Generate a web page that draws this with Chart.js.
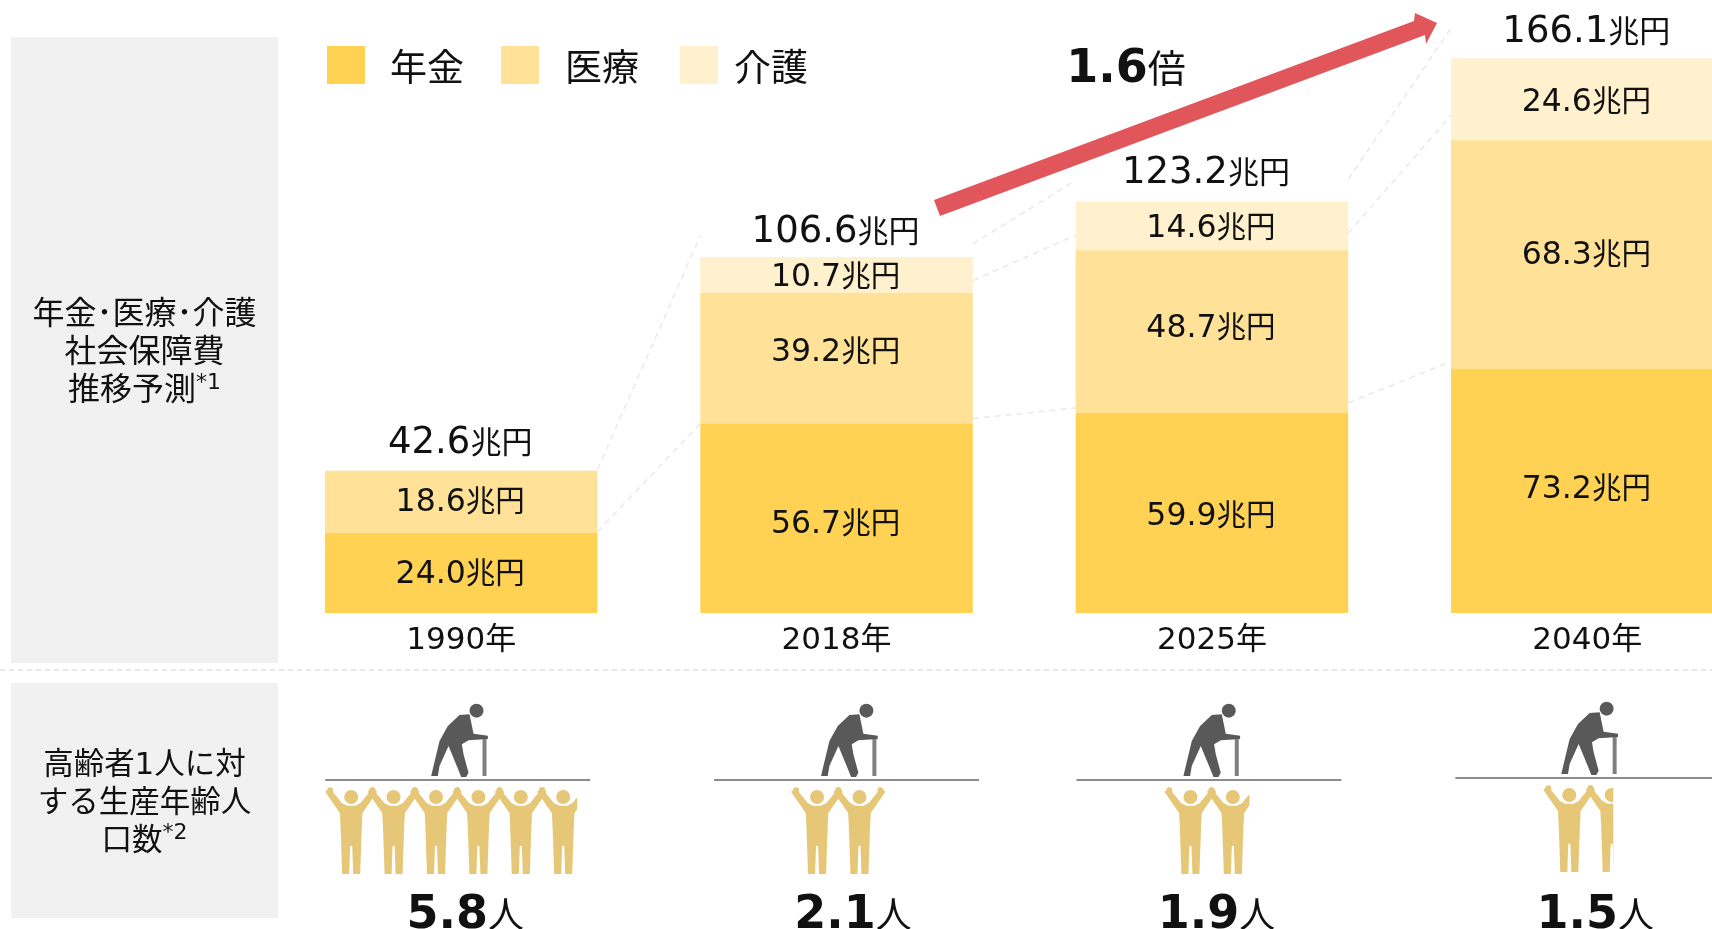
<!DOCTYPE html>
<html lang="ja">
<head>
<meta charset="utf-8">
<title>社会保障費推移予測</title>
<script src="https://cdn.jsdelivr.net/npm/chart.js@4/dist/chart.umd.min.js"></script>
<style>
html,body{margin:0;padding:0;width:1712px;height:929px;overflow:hidden;background:#fff}
#wrap{position:absolute;left:0;top:0;width:1712px;height:929px;overflow:hidden}
canvas{position:absolute;left:0;top:0}
</style>
</head>
<body>
<div id="wrap"><canvas id="c" width="1775" height="929"></canvas></div>
<script>
// ---- data ----
const categories = ['1990年', '2018年', '2025年', '2040年'];
const pension = [24.0, 56.7, 59.9, 73.2];
const medical = [18.6, 39.2, 48.7, 68.3];
const care = [null, 10.7, 14.6, 24.6];
const totals = [42.6, 106.6, 123.2, 166.1];
const workersPerElder = [5.8, 2.1, 1.9, 1.5];
const seriesNames = ['年金', '医療', '介護'];
const multipleNumber = '1.6';
const multipleUnit = '倍';
const moneyUnit = '兆円';
const personUnit = '人';
const panelTop = [['年金･医療･介護'], ['社会保障費'], ['推移予測', '*1']];
const panelBottom = [['高齢者1人に対'], ['する生産年齢人'], ['口数', '*2']];

// ---- styles ----
const colors = ['#FFD254', '#FFE297', '#FFF1CD'];
const FAM = '"DejaVu Sans","Noto Sans CJK JP",sans-serif';
const INK = '#111';

// ---- layout offsets (pixels, relative to each category centre) ----
const totalBase = [-18, -15, -18, -16];
const totalX = [-1, -1, -6, -1];
const segNudge = [[-2, 3, 0, -5], [-3, -9, -7, -2], [0, -1, -1, 0]];
const elderX = [-30, -15.5, -28.5, -26];
const rowDY = [0, 0, 0, -2];
const lineX = [-136, -122.5, -135.5, -132];
const firstPerson = [-110, -19.5, -21.5, -18];
const clipRight = [116, 53.5, 37.5, 26];
const resultX = [4, 16.5, 4.5, 8];

function runs(ctx, parts, cx, base) {
  let w = 0;
  parts.forEach(p => { ctx.font = p.font; w += ctx.measureText(p.t).width; });
  let x = cx - w / 2;
  ctx.textAlign = 'left';
  ctx.textBaseline = 'alphabetic';
  parts.forEach(p => {
    ctx.font = p.font;
    ctx.fillStyle = INK;
    ctx.fillText(p.t, x, base - (p.up || 0));
    x += ctx.measureText(p.t).width;
  });
}
function poly(ctx, pts, ox, oy, k) {
  ctx.beginPath();
  pts.forEach((p, i) => {
    const x = ox + p[0] * k, y = oy + p[1] * k;
    i ? ctx.lineTo(x, y) : ctx.moveTo(x, y);
  });
  ctx.closePath();
  ctx.fill();
}
const personShape = [[-78,8],[-64,-2],[-28,42],[-12,50],[12,50],[28,42],[64,-2],[78,8],[34,72],[32,110],[27,255],[6,255],[3,170],[-3,170],[-6,255],[-27,255],[-32,110],[-34,72]];
function drawPerson(ctx, cx, top) {
  ctx.fillStyle = '#E6C778';
  poly(ctx, personShape, cx, top, 1 / 3);
  [[0, 24, 21], [-63, 4, 9], [63, 4, 9]].forEach(c => {
    ctx.beginPath();
    ctx.arc(cx + c[0] / 3, top + c[1] / 3, c[2] / 3, 0, Math.PI * 2);
    ctx.fill();
  });
}
const elderShape = [[0,225],[7,195],[25,120],[50,75],[85,42],[115,40],[127,98],[170,104],[170,114],[112,118],[92,130],[97,160],[112,215],[105,228],[90,228],[83,210],[52,135],[25,195],[20,225]];
function drawElder(ctx, ox, oy) {
  ctx.fillStyle = '#595959';
  poly(ctx, elderShape, ox, oy, 1 / 3);
  ctx.beginPath();
  ctx.arc(ox + 136 / 3, oy + 29 / 3, 7, 0, Math.PI * 2);
  ctx.fill();
  ctx.fillStyle = '#7f7f7f';
  ctx.fillRect(ox + 154 / 3, oy + 38, 4, 37);
}

const decor = {
  id: 'decor',
  beforeDatasetsDraw(chart) {
    const ctx = chart.ctx;
    ctx.save();
    ctx.fillStyle = '#F1F1F1';
    ctx.fillRect(11, 37, 267, 626);
    ctx.fillRect(11, 683, 267, 235);
    ctx.restore();
  },
  afterDatasetsDraw(chart) {
    const ctx = chart.ctx, xs = chart.scales.x, ys = chart.scales.y;
    const cx = i => xs.getPixelForValue(i);
    const lvl = (i, k) => {
      const a = [pension[i], medical[i], care[i] || 0];
      return ys.getPixelForValue(a.slice(0, k).reduce((s, v) => s + v, 0));
    };
    const half = chart.getDatasetMeta(0).data[0].width / 2;
    ctx.save();

    // connector lines between bars
    ctx.strokeStyle = '#E9E9E9';
    ctx.lineWidth = 1.5;
    ctx.setLineDash([6, 5]);
    const conns = [
      [0, 2, -1, 3, -21],
      [0, 1, -1, 1, 0],
      [1, 3, -13, 3, -21],
      [1, 2, -12, 2, -15],
      [1, 1, -5, 1, -5],
      [2, 3, -22, 3, -30],
      [2, 2, -17, 2, -25],
      [2, 1, -10, 1, -7]
    ];
    conns.forEach(c => {
      const i = c[0];
      ctx.beginPath();
      ctx.moveTo(cx(i) + half, lvl(i, c[1]) + c[2]);
      ctx.lineTo(cx(i + 1) - half, lvl(i + 1, c[3]) + c[4]);
      ctx.stroke();
    });
    ctx.setLineDash([]);

    // segment labels
    const f1 = '31.5px ' + FAM, f2 = '29.5px ' + FAM;
    [pension, medical, care].forEach((arr, s) => {
      arr.forEach((v, i) => {
        if (v == null) return;
        const mid = (lvl(i, s) + lvl(i, s + 1)) / 2 + segNudge[s][i];
        runs(ctx, [{t: v.toFixed(1), font: f1}, {t: moneyUnit, font: f2}], cx(i) - 1, mid + 12);
      });
    });
    // totals
    totals.forEach((v, i) => {
      const top = lvl(i, 3);
      runs(ctx, [{t: v.toFixed(1), font: '37px ' + FAM}, {t: moneyUnit, font: '31px ' + FAM}], cx(i) + totalX[i], top + totalBase[i]);
    });

    // legend
    const legX = [[327, 390], [501, 565], [680, 734]];
    seriesNames.forEach((n, i) => {
      ctx.fillStyle = colors[i];
      ctx.fillRect(legX[i][0], 46, 38, 38);
      ctx.fillStyle = INK;
      ctx.font = '37px ' + FAM;
      ctx.textAlign = 'left';
      ctx.textBaseline = 'alphabetic';
      ctx.fillText(n, legX[i][1], 81);
    });

    // growth arrow
    ctx.fillStyle = '#E0565B';
    poly(ctx, [[934,200],[1414,21],[1415,13],[1437,23],[1426,44],[1425,35],[940,216]], 0, 0, 1);
    runs(ctx, [{t: multipleNumber, font: 'bold 46px ' + FAM}, {t: multipleUnit, font: '38px ' + FAM}], 1126, 82);

    // panels
    const panel = (lines, ys0, size) => lines.forEach((l, i) => {
      const parts = [{t: l[0], font: size + 'px ' + FAM}];
      if (l[1]) parts.push({t: l[1], font: '22px ' + FAM, up: 11});
      runs(ctx, parts, 144.5, ys0[i]);
    });
    panel(panelTop, [324, 362, 400], 32);
    panel(panelBottom, [774, 812, 850], 30.5);

    // divider
    ctx.strokeStyle = '#E8E8E8';
    ctx.lineWidth = 2;
    ctx.setLineDash([5, 4]);
    ctx.beginPath(); ctx.moveTo(0, 670); ctx.lineTo(1712, 670); ctx.stroke();
    ctx.setLineDash([]);

    // bottom row
    workersPerElder.forEach((v, i) => {
      const c = cx(i), dy = rowDY[i];
      ctx.fillStyle = '#8c8c8c';
      ctx.fillRect(c + lineX[i], 779 + dy, 265, 2);
      drawElder(ctx, c + elderX[i], 701 + dy);
      ctx.save();
      ctx.beginPath();
      ctx.rect(c - 300, 700, c + clipRight[i] - (c - 300), 200);
      ctx.clip();
      const n = Math.round(v);
      for (let k = 0; k < n; k++) drawPerson(ctx, c + firstPerson[i] + k * 42.4, 789 + dy);
      ctx.restore();
      runs(ctx, [{t: v.toFixed(1), font: 'bold 46px ' + FAM}, {t: personUnit, font: '36px ' + FAM}], c + resultX[i], 928);
    });
    ctx.restore();
  }
};

new Chart(document.getElementById('c'), {
  type: 'bar',
  data: {
    labels: categories,
    datasets: [
      {label: seriesNames[0], data: pension, backgroundColor: colors[0]},
      {label: seriesNames[1], data: medical, backgroundColor: colors[1]},
      {label: seriesNames[2], data: care, backgroundColor: colors[2]}
    ]
  },
  options: {
    responsive: false,
    animation: false,
    events: [],
    categoryPercentage: 1,
    barPercentage: 0.726,
    layout: {padding: {left: 273.5, right: 0, top: 0, bottom: 266}},
    plugins: {legend: {display: false}, tooltip: {enabled: false}, title: {display: false}},
    scales: {
      x: {
        stacked: true,
        afterFit(s) { s.height = 50; },
        grid: {display: false, drawTicks: false},
        border: {display: false},
        ticks: {color: INK, font: {family: FAM, size: 31}, padding: 9, maxRotation: 0, autoSkip: false}
      },
      y: {stacked: true, display: false, min: 0, max: 183.5}
    }
  },
  plugins: [decor]
});
</script>
</body>
</html>
